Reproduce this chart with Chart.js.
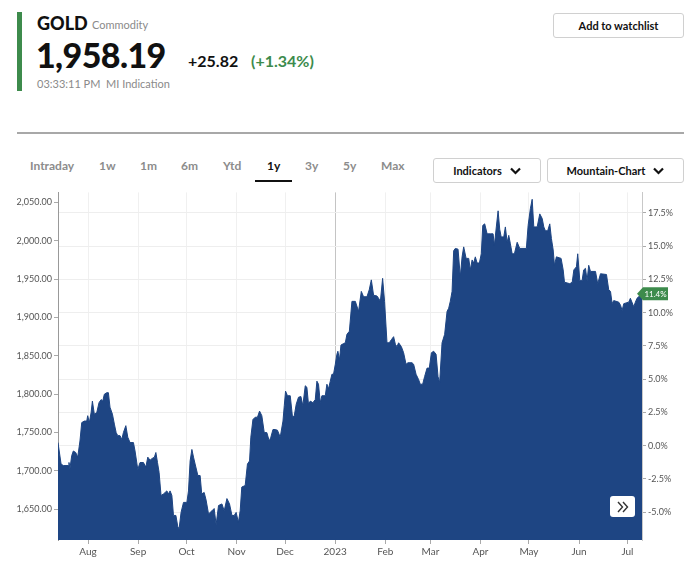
<!DOCTYPE html>
<html>
<head>
<meta charset="utf-8">
<script src="https://cdn.jsdelivr.net/npm/chart.js@4/dist/chart.umd.min.js"></script>
<style>
  body { margin: 0; width: 700px; height: 574px; background: #fff; position: relative; overflow: hidden;
         font-family: Lato, 'Open Sans', sans-serif; color: #111; }
  .abs { position: absolute; white-space: nowrap; }
  .bar { left: 17px; top: 12px; width: 5px; height: 79px; background: #3d8b4c; }
  .sym { left: 37px; top: 12px; font-size: 18px; font-weight: 900; }
  .kind { left: 92px; top: 18px; font-size: 11px; color: #8a8a8a; }
  .last { left: 36px; top: 34px; font-size: 34px; font-weight: 900; letter-spacing: -0.6px; }
  .chg { left: 188px; top: 51px; font-size: 16px; font-weight: 700; }
  .pct { left: 251px; top: 51px; font-size: 16px; font-weight: 700; color: #3d8b4c; }
  .time { left: 37px; top: 77px; font-size: 11px; color: #8a8a8a; }
  .btn { border: 1px solid #d0d0d0; border-radius: 3px; font-size: 11px; font-weight: 700;
         display: flex; align-items: center; justify-content: center; gap: 8px; box-sizing: border-box; }
  .rule { left: 17px; top: 132px; width: 667px; height: 2px; background: #a8a8a8; }
  .tab { top: 158px; font-size: 12px; font-weight: 700; color: #8c8c8c; }
  .tab.on { color: #111; }
  .uline { left: 255px; top: 180px; width: 37px; height: 2px; background: #111; }
  #wrap { position: absolute; left: 0; top: 185px; width: 700px; height: 389px; }
  .more { left: 610px; top: 496px; width: 25px; height: 21px; background: #fff; border-radius: 3px;
          display: flex; align-items: center; justify-content: center; }
</style>
</head>
<body>
<div class="abs bar"></div>
<div class="abs sym">GOLD</div>
<div class="abs kind">Commodity</div>
<div class="abs last">1,958.19</div>
<div class="abs chg">+25.82</div>
<div class="abs pct">(+1.34%)</div>
<div class="abs time">03:33:11 PM &nbsp;MI Indication</div>
<div class="abs btn" style="left:553px;top:13px;width:131px;height:25px;">Add to watchlist</div>
<div class="abs rule"></div>

<div class="abs tab" style="left:30px">Intraday</div>
<div class="abs tab" style="left:99px">1w</div>
<div class="abs tab" style="left:140px">1m</div>
<div class="abs tab" style="left:181px">6m</div>
<div class="abs tab" style="left:223px">Ytd</div>
<div class="abs tab on" style="left:267px">1y</div>
<div class="abs tab" style="left:305px">3y</div>
<div class="abs tab" style="left:343px">5y</div>
<div class="abs tab" style="left:381px">Max</div>
<div class="abs uline"></div>

<div class="abs btn" style="left:433px;top:158px;width:108px;height:25px;">Indicators
  <svg width="11" height="8" viewBox="0 0 11 8"><polyline points="1,1.5 5.5,6 10,1.5" fill="none" stroke="#111" stroke-width="2.2"/></svg></div>
<div class="abs btn" style="left:547px;top:158px;width:137px;height:25px;">Mountain-Chart
  <svg width="11" height="8" viewBox="0 0 11 8"><polyline points="1,1.5 5.5,6 10,1.5" fill="none" stroke="#111" stroke-width="2.2"/></svg></div>

<div id="wrap"><canvas id="chart" width="700" height="389"></canvas></div>
<div class="abs more"><svg width="14" height="12" viewBox="0 0 14 12"><polyline points="2,1 6.5,6 2,11" fill="none" stroke="#333" stroke-width="1.4"/><polyline points="7,1 11.5,6 7,11" fill="none" stroke="#333" stroke-width="1.4"/></svg></div>

<script>
// day offsets since 2022-07-01
const days = [
  12.4,14.3,15.7,18.8,19.2,19.8,20.9,21.9,23.4,24.6,
  26.0,27.1,28.7,30.2,30.8,31.8,32.9,33.7,34.9,36.4,
  37.8,39.1,40.1,41.1,42.6,43.6,44.6,46.1,47.3,48.4,
  49.4,50.8,51.9,52.9,54.4,55.6,57.0,59.1,60.1,61.8,
  63.2,65.3,66.8,68.0,69.4,70.5,72.1,73.0,74.0,75.0,
  76.2,77.7,79.8,80.8,81.8,82.9,83.9,85.4,86.6,87.4,
  88.6,90.1,92.2,93.2,94.2,95.3,96.3,97.3,99.0,100.4,
  101.4,102.9,104.1,105.6,107.7,109.1,110.3,111.8,113.9,115.3,
  117.0,118.6,120.1,121.5,122.7,124.1,125.2,126.2,128.3,129.7,
  131.0,131.8,133.1,134.5,135.9,137.2,138.6,140.1,141.7,143.2,
  144.2,145.5,146.9,148.3,150.0,151.7,152.5,153.3,154.5,156.2,
  157.6,158.7,159.9,161.3,162.8,164.0,165.5,166.5,167.5,168.6,
  170.2,171.7,172.7,173.7,174.8,175.8,177.9,178.9,179.9,181.0,
  182.0,183.0,184.1,185.1,185.7,186.7,187.6,189.2,190.3,191.3,
  192.8,194.4,196.5,198.5,200.2,201.6,203.7,205.1,206.4,207.8,
  209.9,210.9,212.0,213.4,214.6,216.1,217.5,218.8,220.2,221.3,
  222.3,223.3,225.0,226.4,227.9,229.1,231.6,232.6,234.1,235.7,
  236.7,238.2,239.4,240.9,242.3,243.6,245.0,246.5,247.7,248.7,
  250.2,251.8,253.3,254.3,255.3,256.4,257.4,258.4,260.1,261.5,
  262.6,263.6,265.1,266.7,267.7,268.8,269.8,270.8,271.9,273.3,
  274.5,275.4,276.6,278.1,280.1,281.8,282.6,283.8,284.9,285.9,
  286.8,288.4,289.4,290.5,291.5,292.5,293.6,295.0,296.7,298.3,
  302.4,303.5,304.9,306.0,307.0,309.1,310.7,312.2,313.2,314.2,
  315.6,316.9,317.9,319.0,319.8,321.0,323.9,325.2,326.0,329.3,
  330.8,331.8,333.4,334.2,335.5,336.9,337.9,339.0,340.0,341.0,
  342.1,345.2,346.6,348.3,352.0,353.4,354.5,355.5,356.5,359.6,
  360.7,361.7,362.7,365.8,366.8,368.9,369.9,370.9,374.0
];
const prices = [
  1737,1709,1707,1707,1711,1703,1720,1726,1724,1718,
  1739,1763,1765,1765,1772,1763,1776,1791,1774,1776,
  1789,1793,1791,1800,1802,1802,1783,1774,1761,1750,
  1746,1746,1741,1750,1759,1744,1737,1737,1726,1702,
  1711,1711,1705,1718,1714,1716,1718,1724,1711,1698,
  1668,1670,1674,1670,1674,1668,1642,1642,1627,1625,
  1646,1659,1659,1674,1713,1728,1718,1709,1694,1694,
  1670,1672,1662,1644,1648,1651,1630,1655,1657,1648,
  1664,1657,1642,1642,1646,1633,1648,1679,1681,1709,
  1713,1744,1767,1770,1770,1778,1772,1750,1750,1739,
  1744,1754,1754,1753,1744,1765,1785,1804,1798,1798,
  1770,1772,1787,1796,1797,1785,1811,1809,1787,1791,
  1789,1793,1817,1813,1789,1798,1798,1813,1807,1817,
  1826,1826,1839,1852,1856,1845,1864,1866,1867,1878,
  1882,1921,1921,1908,1934,1927,1927,1936,1949,1929,
  1928,1925,1921,1951,1921,1867,1867,1871,1875,1865,
  1862,1867,1862,1854,1839,1841,1841,1839,1826,1819,
  1813,1813,1823,1834,1834,1854,1856,1852,1823,1815,
  1867,1878,1908,1912,1921,1934,1987,1990,1989,1953,
  1979,1992,1977,1977,1962,1975,1971,1979,1971,1971,
  1983,2020,2022,2009,2009,2009,1994,2018,2039,2015,
  2005,2005,2018,1998,2007,1996,1983,1983,1998,1990,
  1990,2020,2042,2054,2018,2018,2035,2029,2018,2013,
  2013,2022,2003,1988,1968,1979,1977,1962,1946,1944,
  1946,1962,1966,1983,1948,1948,1962,1964,1948,1968,
  1960,1960,1944,1957,1956,1936,1934,1918,1922,1920,
  1916,1909,1918,1920,1925,1914,1920,1925,1931
];

const monthDays = [31, 62, 92, 123, 153, 184, 215, 243, 274, 304, 335, 365];
const monthLabels = ['Aug', 'Sep', 'Oct', 'Nov', 'Dec', '2023', 'Feb', 'Mar', 'Apr', 'May', 'Jun', 'Jul'];
const priceTicks = [1650, 1700, 1750, 1800, 1850, 1900, 1950, 2000, 2050];
const pctTicks = [-5, -2.5, 0, 2.5, 5, 7.5, 10, 12.5, 15, 17.5];

const basePrice = 1733;   // 0% line on the right axis
const priceMin = 1610;
const priceMax = 2063;

const fillColor = '#1e4583';
const badgeGreen = '#3d8b4c';
const axisText = '#555';

const points = days.map((d, i) => ({ x: d, y: prices[i] }));

// green badge with the last change on the right axis
const badgePlugin = {
  id: 'badge',
  afterDraw(chart) {
    const ctx = chart.ctx;
    const last = prices[prices.length - 1];
    const y = chart.scales.y.getPixelForValue(last);
    const x = chart.chartArea.right - 5;
    ctx.save();
    ctx.fillStyle = badgeGreen;
    ctx.beginPath();
    ctx.moveTo(x, y);
    ctx.lineTo(x + 6, y - 6.5);
    ctx.lineTo(x + 31, y - 6.5);
    ctx.lineTo(x + 31, y + 6.5);
    ctx.lineTo(x + 6, y + 6.5);
    ctx.closePath();
    ctx.fill();
    ctx.fillStyle = '#fff';
    ctx.font = '8px Lato, sans-serif';
    ctx.textAlign = 'center';
    ctx.textBaseline = 'middle';
    ctx.fillText(((last / basePrice - 1) * 100).toFixed(1) + '%', x + 18.5, y + 0.5);
    ctx.restore();
  }
};

new Chart(document.getElementById('chart'), {
  type: 'line',
  data: {
    datasets: [{
      data: points,
      borderColor: fillColor,
      backgroundColor: fillColor,
      borderWidth: 1,
      fill: 'start',
      pointRadius: 0,
      tension: 0
    }]
  },
  options: {
    responsive: false,
    animation: false,
    layout: { padding: { top: 5, left: 0, right: 0, bottom: 0 } },
    plugins: { legend: { display: false }, tooltip: { enabled: false } },
    scales: {
      x: {
        type: 'linear',
        min: 12.4,
        max: 374.0,
        afterFit: s => { s.height = 34; },
        afterBuildTicks: s => { s.ticks = monthDays.map(v => ({ value: v })); },
        ticks: {
          autoSkip: false,
          maxRotation: 0,
          padding: 2,
          color: axisText,
          font: { size: 10, family: 'Lato, sans-serif' },
          callback: (v, i) => monthLabels[i]
        },
        grid: {
          color: c => monthLabels[c.index] === '2023' ? '#c4c4c4' : '#f0f0f0',
          tickColor: '#aaa',
          tickLength: 4
        },
        border: { display: false }
      },
      y: {
        position: 'left',
        min: priceMin,
        max: priceMax,
        afterFit: s => { s.width = 58; },
        afterBuildTicks: s => { s.ticks = priceTicks.map(v => ({ value: v })); },
        ticks: {
          padding: 2,
          color: axisText,
          font: { size: 9, family: 'Lato, sans-serif' },
          callback: v => v.toLocaleString('en-US', { minimumFractionDigits: 2, maximumFractionDigits: 2 })
        },
        grid: { drawOnChartArea: false, tickColor: '#aaa', tickLength: 4 },
        border: { color: '#999' }
      },
      y1: {
        position: 'right',
        min: (priceMin / basePrice - 1) * 100,
        max: (priceMax / basePrice - 1) * 100,
        afterFit: s => { s.width = 58; },
        afterBuildTicks: s => { s.ticks = pctTicks.map(v => ({ value: v })); },
        ticks: {
          padding: 2,
          color: axisText,
          font: { size: 9, family: 'Lato, sans-serif' },
          callback: v => v.toFixed(1) + '%'
        },
        grid: { color: '#eeeeee', tickColor: '#aaa', tickLength: 4 },
        border: { color: '#c8c8c8' }
      }
    }
  },
  plugins: [badgePlugin]
});
</script>
</body>
</html>
